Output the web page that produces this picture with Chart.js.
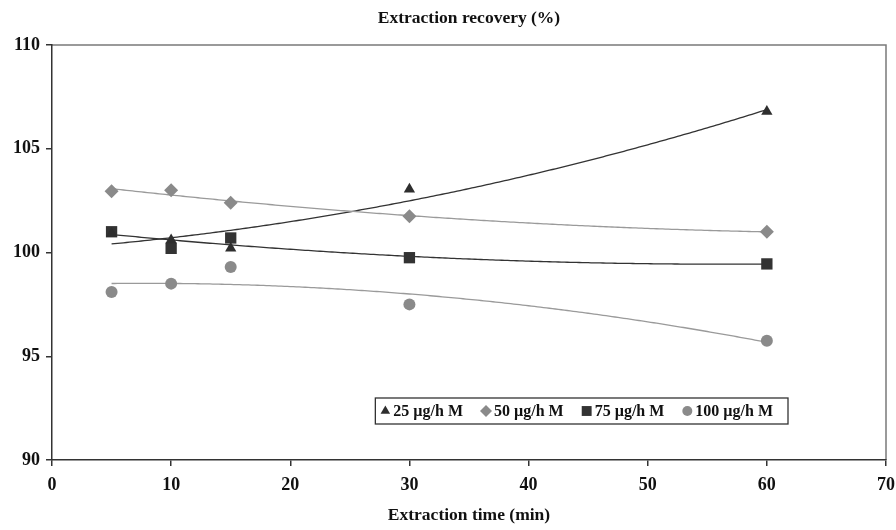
<!DOCTYPE html>
<html>
<head>
<meta charset="utf-8">
<script src="https://cdn.jsdelivr.net/npm/chart.js@4/dist/chart.umd.min.js"></script>
<style>
    html, body { margin: 0; padding: 0; background: #fff; }
    #wrap { width: 896px; height: 530px; }
</style>
</head>
<body>
<div id="wrap"><canvas id="chart01"></canvas></div>
<script>
// extraction time (min)
const times = [5, 10, 15, 30, 60];
// recovery (%) per concentration
const rec25 = [100.92, 100.6, 100.2, 103.05, 106.8];
const rec50 = [102.95, 103.0, 102.4, 101.75, 101.0];
const rec75 = [101.0, 100.2, 100.7, 99.75, 99.45];
const rec100 = [98.1, 98.5, 99.3, 97.5, 95.75];
const seriesLabels = ['25 µg/h M', '50 µg/h M', '75 µg/h M', '100 µg/h M'];
const xTicks = [0, 10, 20, 30, 40, 50, 60, 70];
const yTicks = [90, 95, 100, 105, 110];

const FONT = '"Liberation Serif", "Times New Roman", serif';
const DARK = '#2e2e2e';
const GRAY = '#8a8a8a';

// 2nd order least squares fit (what the excel trendline does)
function polyFit2(xs, ys) {
    let s = [0, 0, 0, 0, 0], t = [0, 0, 0];
    xs.forEach((x, i) => {
        for (let k = 0; k < 5; k++) s[k] += Math.pow(x, k);
        for (let k = 0; k < 3; k++) t[k] += Math.pow(x, k) * ys[i];
    });
    const m = [[s[0], s[1], s[2], t[0]], [s[1], s[2], s[3], t[1]], [s[2], s[3], s[4], t[2]]];
    for (let i = 0; i < 3; i++) {
        for (let j = i + 1; j < 3; j++) {
            const f = m[j][i] / m[i][i];
            for (let k = i; k < 4; k++) m[j][k] -= f * m[i][k];
        }
    }
    const c = [0, 0, 0];
    for (let i = 2; i >= 0; i--) {
        let v = m[i][3];
        for (let k = i + 1; k < 3; k++) v -= m[i][k] * c[k];
        c[i] = v / m[i][i];
    }
    return c;
}

function toPoints(ys) {
    return times.map((t, i) => ({ x: t, y: ys[i] }));
}

const styles = [
    { style: 'triangle', color: DARK, radius: 6.5, trend: '#333' },
    { style: 'rectRot', color: GRAY, radius: 7, trend: '#9a9a9a' },
    { style: 'rect', color: '#333', radius: 8, trend: '#333' },
    { style: 'circle', color: GRAY, radius: 6, trend: '#9a9a9a' }
];

const dtChart = {
    datasets: [rec25, rec50, rec75, rec100].map((ys, i) => ({
        label: seriesLabels[i],
        data: toPoints(ys),
        showLine: false,
        pointStyle: styles[i].style,
        pointRadius: styles[i].radius,
        pointHoverRadius: styles[i].radius,
        backgroundColor: styles[i].color,
        borderColor: styles[i].color,
        borderWidth: 0,
        trendColor: styles[i].trend
    }))
};

const trendPlugin = {
    id: 'trend',
    beforeDatasetsDraw(chart) {
        const { ctx, scales: { x, y } } = chart;
        ctx.save();
        chart.data.datasets.forEach(ds => {
            const xs = ds.data.map(p => p.x), ys = ds.data.map(p => p.y);
            const c = polyFit2(xs, ys);
            const x0 = Math.min(...xs), x1 = Math.max(...xs);
            ctx.beginPath();
            for (let v = x0; v <= x1 + 1e-9; v += 0.25) {
                const px = x.getPixelForValue(v), py = y.getPixelForValue(c[0] + c[1] * v + c[2] * v * v);
                if (v === x0) ctx.moveTo(px, py); else ctx.lineTo(px, py);
            }
            ctx.strokeStyle = ds.trendColor;
            ctx.lineWidth = 1.3;
            ctx.stroke();
        });
        ctx.restore();
    }
};

const framePlugin = {
    id: 'frame',
    beforeDraw(chart) {
        const { ctx, chartArea: a } = chart;
        ctx.save();
        ctx.strokeStyle = '#7a7a7a';
        ctx.lineWidth = 1.5;
        ctx.beginPath();
        ctx.moveTo(a.left, a.top);
        ctx.lineTo(a.right, a.top);
        ctx.lineTo(a.right, a.bottom);
        ctx.stroke();
        // title
        ctx.fillStyle = '#111';
        ctx.font = 'bold 17.5px ' + FONT;
        ctx.textAlign = 'center';
        ctx.textBaseline = 'middle';
        ctx.fillText('Extraction recovery (%)', (a.left + a.right) / 2, 18);
        ctx.restore();
    }
};

const legendPlugin = {
    id: 'boxLegend',
    afterDatasetsDraw(chart) {
        const { ctx, chartArea: a } = chart;
        const boxRight = a.right - 98, boxTop = a.bottom - 62, boxH = 26;
        ctx.save();
        ctx.font = 'bold 16px ' + FONT;
        ctx.textBaseline = 'middle';
        const items = chart.data.datasets.map(ds => ({ ds, w: ctx.measureText(ds.label).width }));
        const total = items.reduce((s, it) => s + 19 + it.w + 12, 0) - 12 + 14;
        const boxLeft = boxRight - total;
        ctx.fillStyle = '#fff';
        ctx.fillRect(boxLeft, boxTop, total, boxH);
        ctx.strokeStyle = '#333';
        ctx.lineWidth = 1.3;
        ctx.strokeRect(boxLeft, boxTop, total, boxH);
        let cx = boxLeft + 10;
        const cy = boxTop + boxH / 2;
        items.forEach(it => {
            ctx.fillStyle = it.ds.backgroundColor;
            ctx.strokeStyle = it.ds.backgroundColor;
            Chart.helpers.drawPoint(ctx, { pointStyle: it.ds.pointStyle, radius: it.ds.pointRadius - 1, borderWidth: 0 }, cx, cy);
            ctx.fillStyle = '#111';
            ctx.fillText(it.ds.label, cx + 8, cy + 1);
            cx += 19 + it.w + 12;
        });
        ctx.restore();
    }
};

const ctx01 = document.getElementById('chart01');
const mainChart = new Chart(ctx01, {
    type: 'scatter',
    data: dtChart,
    options: {
        responsive: true,
        maintainAspectRatio: false,
        animation: false,
        layout: { padding: { top: 45, right: 10, left: 0, bottom: 0 } },
        plugins: {
            legend: { display: false },
            tooltip: { enabled: false }
        },
        scales: {
            x: {
                type: 'linear',
                min: 0,
                max: 70,
                afterBuildTicks: s => { s.ticks = xTicks.map(v => ({ value: v })); },
                afterFit: s => { s.height = 70; s.paddingLeft = 0; s.paddingRight = 0; },
                grid: { drawOnChartArea: false, drawTicks: true, tickLength: 6, color: '#333', lineWidth: 1.5 },
                border: { color: '#333', width: 1.5 },
                ticks: { color: '#111', padding: 9, font: { family: FONT, size: 18, weight: 'bold' } },
                title: {
                    display: true,
                    text: 'Extraction time (min)',
                    color: '#111',
                    padding: { top: 0, bottom: 4 },
                    font: { family: FONT, size: 17.5, weight: 'bold' }
                }
            },
            y: {
                min: 90,
                max: 110,
                afterBuildTicks: s => { s.ticks = yTicks.map(v => ({ value: v })); },
                afterFit: s => { s.width = 52; s.paddingTop = 0; s.paddingBottom = 0; },
                grid: { drawOnChartArea: false, drawTicks: true, tickLength: 6, color: '#333', lineWidth: 1.5 },
                border: { color: '#333', width: 1.5 },
                ticks: { color: '#111', padding: 6, font: { family: FONT, size: 18, weight: 'bold' } }
            }
        }
    },
    plugins: [framePlugin, trendPlugin, legendPlugin]
});
</script>
</body>
</html>
